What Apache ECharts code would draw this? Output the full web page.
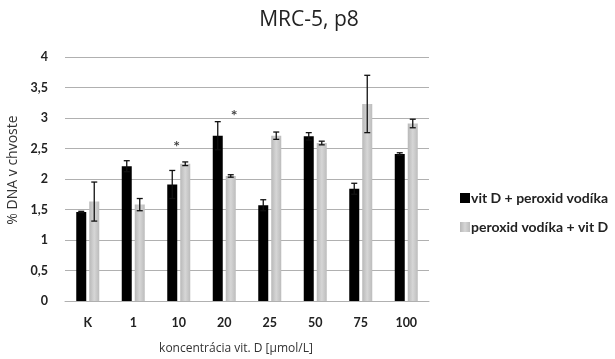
<!DOCTYPE html>
<html><head><meta charset="utf-8">
<script src="https://cdn.jsdelivr.net/npm/echarts@6/dist/echarts.min.js"></script>
<style>html,body{margin:0;padding:0;background:#fff}#c{width:615px;height:359px}</style>
</head><body><div id="c"></div>
<script>
const categories = ['K','1','10','20','25','50','75','100'];
const seriesNames = ['vit D + peroxid vodíka','peroxid vodíka + vit D'];
const vitD_first = [1.46, 2.21, 1.91, 2.71, 1.57, 2.70, 1.84, 2.41];
const vitD_first_err = [0.01, 0.09, 0.23, 0.23, 0.09, 0.06, 0.09, 0.02];
const perox_first = [1.63, 1.58, 2.25, 2.05, 2.71, 2.59, 3.23, 2.91];
const perox_first_err = [0.32, 0.10, 0.03, 0.02, 0.06, 0.03, 0.47, 0.07];
const starCategories = ['10','20'];
const starValues = [2.52, 3.04];
const yTicks = [0, 0.5, 1, 1.5, 2, 2.5, 3, 3.5, 4];

const FONT = 'Lato';
const chart = echarts.init(document.getElementById('c'));
const starOffsets = [[-2,0],[10,0]];

function errSeries(vals, errs, offset){
  return {
    type:'custom', z:5, silent:true,
    data: vals.map((v,i)=>[i, v-errs[i], v+errs[i]]),
    renderItem:(params, api)=>{
      const lo = api.coord([api.value(0), api.value(1)]);
      const hi = api.coord([api.value(0), api.value(2)]);
      const x = lo[0] + offset;
      const cw = 3;
      const st = {stroke:'#111', lineWidth:1.3};
      return {type:'group', children:[
        {type:'line', shape:{x1:x,y1:lo[1],x2:x,y2:hi[1]}, style:st},
        {type:'line', shape:{x1:x-cw,y1:lo[1],x2:x+cw,y2:lo[1]}, style:st},
        {type:'line', shape:{x1:x-cw,y1:hi[1],x2:x+cw,y2:hi[1]}, style:st}
      ]};
    }
  };
}

chart.setOption({
  animation:false,
  title:{text:'MRC-5, p8', left:304, top:5, textAlign:'center',
    textStyle:{fontFamily:'Open Sans', fontSize:21, fontWeight:'normal', color:'#222'}},
  legend:{orient:'vertical', left:455, top:186, itemWidth:10, itemHeight:10, itemGap:15,
    icon:'rect', data:seriesNames,
    textStyle:{fontFamily:FONT, fontSize:14, fontWeight:'bold', color:'#222', padding:[0,0,0,-4]}},
  grid:{left:65, right:186, top:57, bottom:58, outerBoundsMode:'none', containLabel:false},
  xAxis:{type:'category', data:categories,
    axisLine:{lineStyle:{color:'#b0b0b0', width:1}}, axisTick:{show:false},
    axisLabel:{fontFamily:FONT, fontSize:12.5, fontWeight:'bold', color:'#222', margin:15},
    name:'koncentrácia vit. D [µmol/L]', nameLocation:'middle', nameGap:42,
    nameTextStyle:{fontFamily:'Open Sans', fontSize:12, color:'#333', padding:[0,22,0,0]}},
  yAxis:{type:'value', min:0, max:4, interval:0.5,
    axisLine:{show:false}, axisTick:{show:false},
    splitLine:{lineStyle:{color:'#b0b0b0', width:1}},
    axisLabel:{fontFamily:FONT, fontSize:12.5, fontWeight:'bold', color:'#222', margin:17,
      formatter:v=>String(v).replace('.',',')},
    name:'% DNA v chvoste', nameLocation:'middle', nameGap:44, nameRotate:90,
    nameTextStyle:{fontFamily:'Open Sans', fontSize:14, color:'#333', padding:[0,0,0,18]}},
  series:[
    {name:seriesNames[0], type:'bar', data:vitD_first, barWidth:10, barGap:'30%',
      itemStyle:{color:'#000'}},
    {name:seriesNames[1], type:'bar', data:perox_first, barWidth:10,
      itemStyle:{color:new echarts.graphic.LinearGradient(0,0,1,0,[
        {offset:0,color:'#b8b8b8'},{offset:0.5,color:'#d6d6d6'},{offset:1,color:'#bcbcbc'}])}},
    errSeries(vitD_first, vitD_first_err, -6.5),
    errSeries(perox_first, perox_first_err, 6.5),
    {type:'scatter', symbolSize:0, silent:true, z:6,
      data: starCategories.map((c,i)=>({value:[c, starValues[i]], label:{offset:starOffsets[i]}})),
      label:{show:true, formatter:'*', position:'inside', fontFamily:FONT, fontSize:16, fontWeight:'bold', color:'#111'}}
  ]
});
</script></body></html>
